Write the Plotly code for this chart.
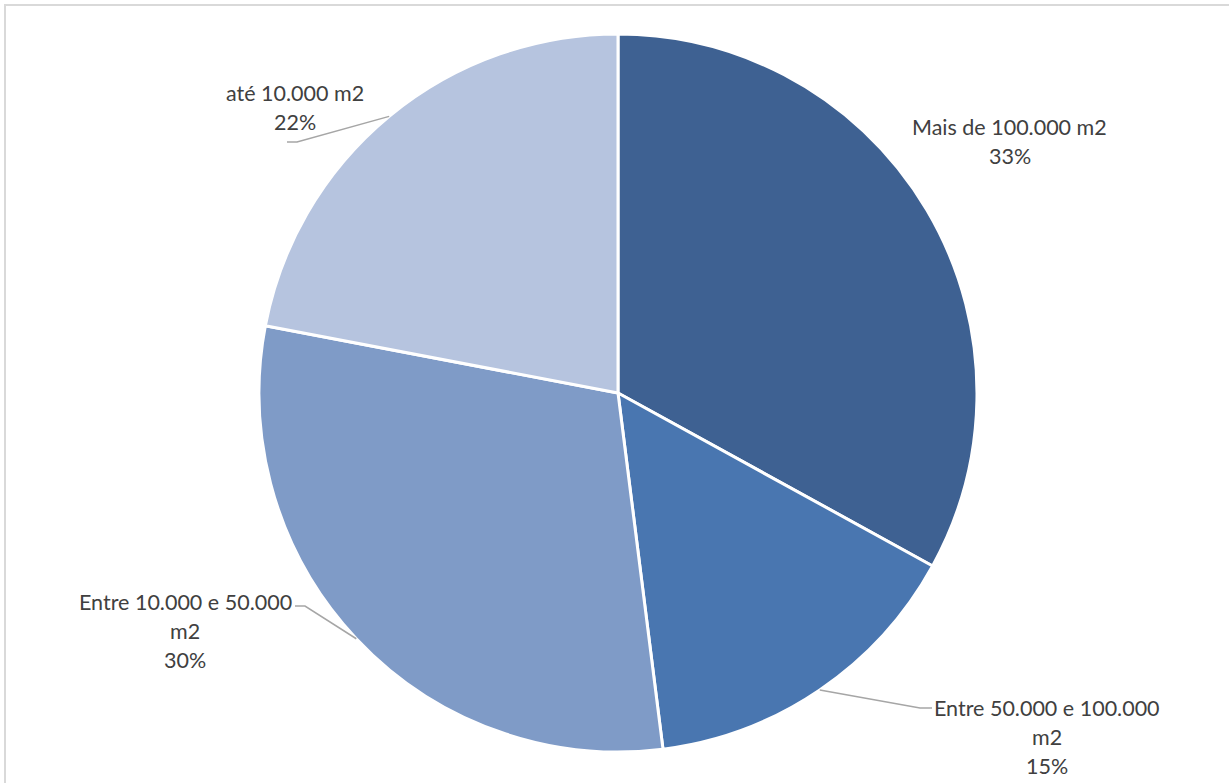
import math
import plotly.graph_objects as go

# ---- data ----
labels = ["Mais de 100.000 m2", "Entre 50.000 e 100.000 m2", "Entre 10.000 e 50.000 m2", "até 10.000 m2"]
values = [33, 15, 30, 22]
label_lines = [["Mais de 100.000 m2"], ["Entre 50.000 e 100.000", "m2"], ["Entre 10.000 e 50.000", "m2"], ["até 10.000 m2"]]
colors = ["#3e6192", "#4976b0", "#7f9bc7", "#b6c4df"]

# ---- layout (pixels) ----
W, H = 1229, 783
CX, CY, R = 618, 393, 359
# label text centre (x) and first-line y, plus leader elbow
label_pos = [(1010, 127), (1047, 708), (185, 602), (295, 93)]
leader = [None, ("right_of", 920, 708, 932), ("left_of", 305, 606, 295), ("left_of", 297, 142, 287)]
LINE_H = 29

def px(x):
    return x / W

def py(y):
    return 1 - y / H

fig = go.Figure(go.Pie(
    labels=labels, values=values, sort=False, direction="clockwise", rotation=0,
    marker=dict(colors=colors, line=dict(color="white", width=3)),
    textinfo="none", hoverinfo="label+percent", showlegend=False,
    domain=dict(x=[px(CX - R), px(CX + R)], y=[py(CY + R), py(CY - R)]),
))

total = sum(values)
shapes = [dict(type="rect", xref="paper", yref="paper", x0=px(5), x1=1.05, y0=-0.05, y1=py(5),
               line=dict(color="#d9d9d9", width=2), fillcolor="rgba(0,0,0,0)", layer="below")]
annotations = []
cum = 0
for i, v in enumerate(values):
    pct = round(100 * v / total)
    mid = (cum + v / 2) / total * 2 * math.pi
    cum += v
    lines = label_lines[i] + [f"{pct}%"]
    lx, ly = label_pos[i]
    for k, t in enumerate(lines):
        annotations.append(dict(x=px(lx), y=py(ly + k * LINE_H), xref="paper", yref="paper",
                                text=t, showarrow=False, xanchor="center", yanchor="middle",
                                font=dict(family="Lato", size=21.5, color="#404040")))
    if leader[i] is not None:
        _, ex, ey, hx = leader[i]
        ax = CX + R * math.sin(mid)
        ay = CY - R * math.cos(mid)
        path = f"M {px(ax)} {py(ay)} L {px(ex)} {py(ey)} L {px(hx)} {py(ey)}"
        shapes.append(dict(type="path", xref="paper", yref="paper", path=path,
                           line=dict(color="#a6a6a6", width=1.5)))

fig.update_layout(width=W, height=H, margin=dict(l=0, r=0, t=0, b=0),
                  paper_bgcolor="white", plot_bgcolor="white",
                  shapes=shapes, annotations=annotations)
fig.write_html("out.html", post_script="document.body.style.margin='0';",
               config={"displayModeBar": False})
